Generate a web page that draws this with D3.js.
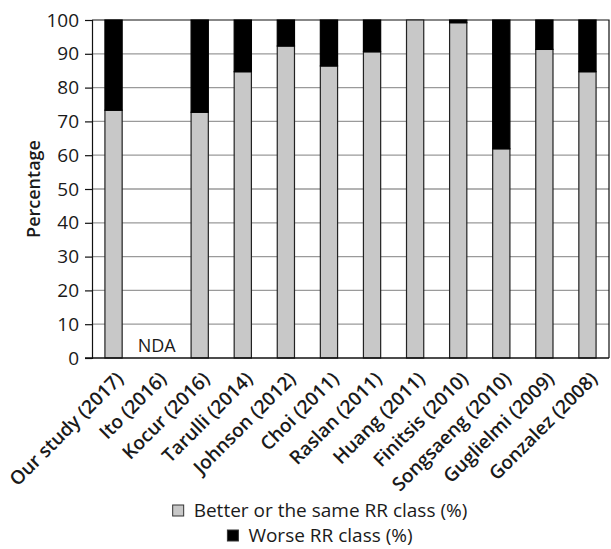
<!DOCTYPE html>
<html>
<head>
<meta charset="utf-8">
<script src="https://cdn.jsdelivr.net/npm/d3@7"></script>
<style>
  body { margin: 0; background: white; }
  text { font-family: "Open Sans", "Noto Sans", sans-serif; fill: #1a1a1a; }
</style>
</head>
<body>
<div id="graphique"></div>
<script>
// Données
const categories = ["Our study (2017)", "Ito (2016)", "Kocur (2016)", "Tarulli (2014)", "Johnson (2012)",
                    "Choi (2011)", "Raslan (2011)", "Huang (2011)", "Finitsis (2010)", "Songsaeng (2010)",
                    "Guglielmi (2009)", "Gonzalez (2008)"];
const better = [73.3, null, 72.7, 84.7, 92.3, 86.4, 90.6, 100, 99.2, 61.9, 91.3, 84.7];
const worse  = [26.7, null, 27.3, 15.3, 7.7, 13.6, 9.4, 0, 0.8, 38.1, 8.7, 15.3];
const ticks  = [0, 10, 20, 30, 40, 50, 60, 70, 80, 90, 100];
const series = ["Better or the same RR class (%)", "Worse RR class (%)"];
const noData = "NDA";

const largeur = 611, hauteur = 549;
const marge = {gauche: 92, droite: 2, haut: 20, bas: 191};
const gris = "#c8c8c8";

let svg = d3.select("#graphique").append("svg")
  .attr("width", largeur)
  .attr("height", hauteur);

let x = d3.scaleBand()
  .domain(categories)
  .range([marge.gauche, largeur - marge.droite])
  .paddingInner(0.6)
  .paddingOuter(0.3);

let y = d3.scaleLinear()
  .domain([0, 100])
  .range([hauteur - marge.bas, marge.haut]);

// Lignes de grille
svg.append("g")
  .selectAll("line")
  .data(ticks.filter(t => t > 0 && t < 100))
  .join("line")
  .attr("x1", marge.gauche).attr("x2", largeur - marge.droite)
  .attr("y1", d => y(d)).attr("y2", d => y(d))
  .attr("stroke", "#9a9a9a")
  .attr("stroke-width", 1.3);

// Cadre haut et droite
svg.append("path")
  .attr("d", "M" + marge.gauche + "," + y(100) + "H" + (largeur - marge.droite) + "V" + y(0))
  .attr("fill", "none")
  .attr("stroke", "#111")
  .attr("stroke-width", 1.2);

// Barres empilées
let lignes = categories.map((c, i) => ({cat: c, better: better[i], worse: worse[i]}));
let barres = svg.append("g");
lignes.filter(d => d.better !== null).forEach(d => {
  barres.append("rect")
    .attr("x", x(d.cat))
    .attr("width", x.bandwidth())
    .attr("y", y(d.better))
    .attr("height", y(0) - y(d.better))
    .attr("fill", gris)
    .attr("stroke", "#222")
    .attr("stroke-width", 1.2);
  if (d.worse > 0) {
    barres.append("rect")
      .attr("x", x(d.cat))
      .attr("width", x.bandwidth())
      .attr("y", y(d.better + d.worse))
      .attr("height", y(d.better) - y(d.better + d.worse))
      .attr("fill", "#000")
      .attr("stroke", "#000")
      .attr("stroke-width", 1.2);
  }
});

// Pas de données
lignes.filter(d => d.better === null).forEach(d => {
  svg.append("text")
    .attr("x", x(d.cat) + x.bandwidth() / 2)
    .attr("y", y(0) - 6)
    .attr("text-anchor", "middle")
    .style("font-size", "18px")
    .text(noData);
});

// Axe Y
let axeY = svg.append("g")
  .attr("transform", "translate(" + marge.gauche + ",0)")
  .call(d3.axisLeft(y).tickValues(ticks).tickSize(7).tickPadding(6));
axeY.select(".domain").attr("stroke", "#111").attr("stroke-width", 1.2);
axeY.selectAll(".tick line").attr("stroke", "#111").attr("stroke-width", 1.2);
axeY.selectAll("text").style("font-size", "19px").attr("fill", "#1a1a1a");

// Axe X
let axeX = svg.append("g")
  .attr("transform", "translate(0," + y(0) + ")")
  .call(d3.axisBottom(x).tickSize(0).tickSizeOuter(0));
axeX.select(".domain")
  .attr("d", "M" + (marge.gauche - 7) + ",0H" + (largeur - marge.droite))
  .attr("stroke", "#111").attr("stroke-width", 1.4);
axeX.selectAll("text")
  .attr("text-anchor", "end")
  .attr("dy", 0)
  .attr("y", 0)
  .attr("transform", "translate(11,22) rotate(-45)")
  .style("font-size", "19px")
  .style("font-weight", "600")
  .attr("fill", "#1a1a1a");

// Titre de l'axe Y
svg.append("text")
  .attr("transform", "translate(40," + ((y(0) + y(100)) / 2) + ") rotate(-90)")
  .attr("text-anchor", "middle")
  .style("font-size", "18px")
  .style("font-weight", "600")
  .text("Percentage");

// Légende
let couleurs = [gris, "#000"];
let centreLegende = 320;
series.forEach((s, i) => {
  let g = svg.append("g");
  let t = g.append("text")
    .attr("y", 517 + i * 25)
    .style("font-size", "19px")
    .text(s);
  let w = t.node().getComputedTextLength();
  let x0 = centreLegende - (w + 21) / 2;
  t.attr("x", x0 + 21);
  g.append("rect")
    .attr("x", x0).attr("y", 517 + i * 25 - 12)
    .attr("width", 11).attr("height", 11)
    .attr("fill", couleurs[i])
    .attr("stroke", "#333")
    .attr("stroke-width", 1);
});
</script>
</body>
</html>
